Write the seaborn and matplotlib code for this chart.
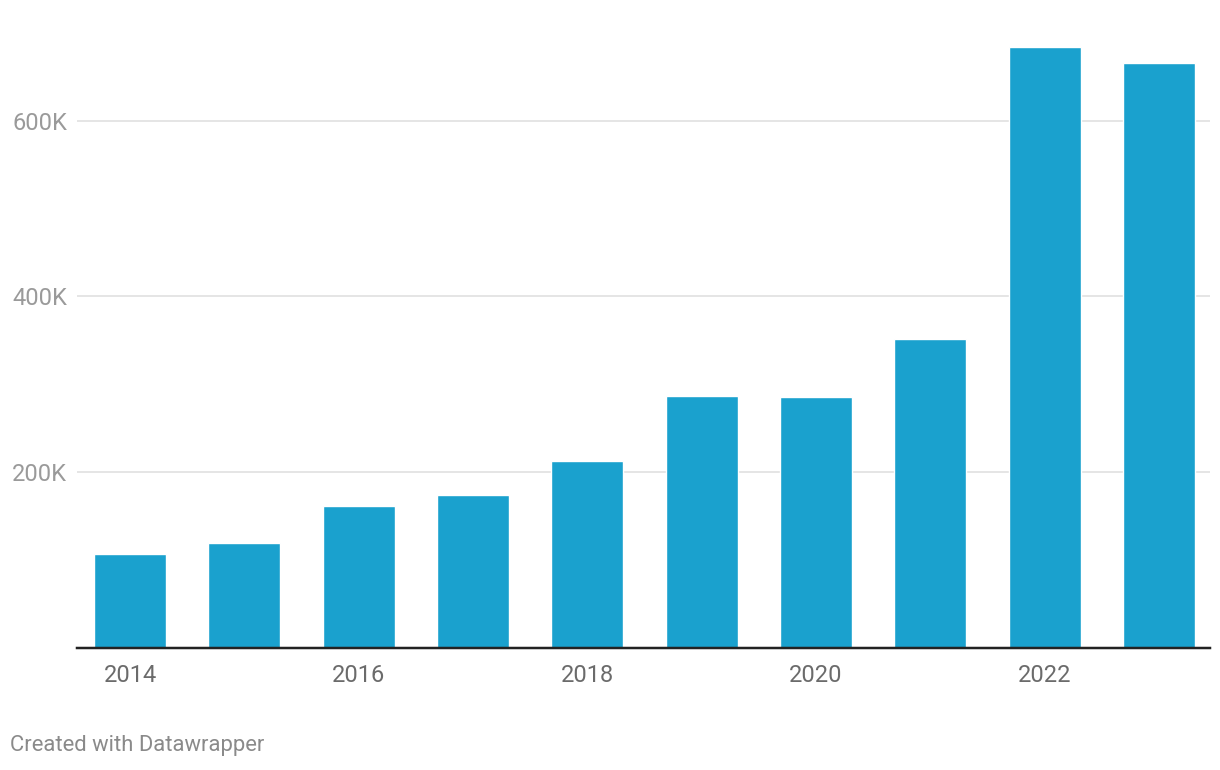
import numpy as np
import pandas as pd
import matplotlib
matplotlib.use("Agg")
import matplotlib.pyplot as plt
import seaborn as sns

sns.set_style("white")
plt.rcParams['font.family'] = ['Roboto', 'DejaVu Sans']

# values (thousands)
years = ["2014", "2015", "2016", "2017", "2018", "2019", "2020", "2021", "2022", "2023"]
values = [106.5, 119.0, 161.2, 173.8, 212.4, 286.3, 285.2, 351.2, 683.8, 665.6]
y_ticks = [200, 400, 600]
y_ticklabels = ["200K", "400K", "600K"]

bar_colour = "#1aa1ce"
px = 72 / 100  # points per pixel at dpi 100

df = pd.DataFrame({"year": years, "value": values})

fig = plt.figure(figsize=(12.2, 7.7), dpi=100)
ax = fig.add_axes([77 / 1220, 122 / 770, (1210 - 77) / 1220, (648 - 40) / 770])

sns.barplot(data=df, x="year", y="value", color=bar_colour, saturation=1,
            width=0.63, ax=ax, zorder=3)

ax.set_xlim(-0.464, 9.446)
ax.set_ylim(0, 691.7)
ax.set_xlabel("")
ax.set_ylabel("")

# grid lines, no zero label
ax.set_yticks(y_ticks)
ax.set_yticklabels(y_ticklabels)
ax.yaxis.grid(True, color="#e5e5e5", linewidth=2 * px, zorder=0)
ax.tick_params(axis="y", length=0, pad=65 * px, labelsize=17, labelcolor="#9a9a9a")
for lab in ax.get_yticklabels():
    lab.set_horizontalalignment("left")

ax.set_xticks(range(len(years)))
ax.set_xticklabels([y if i % 2 == 0 else "" for i, y in enumerate(years)])
ax.tick_params(axis="x", length=0, pad=16 * px, labelsize=17, labelcolor="#6b6b6b")

sns.despine(ax=ax, left=True, right=True, top=True)
ax.spines["bottom"].set_color("#222222")
ax.spines["bottom"].set_linewidth(2.5 * px)
ax.spines["bottom"].set_zorder(5)

fig.text(10 / 1220, 1 - 746 / 770, "Created with Datawrapper", fontsize=15.8,
         color="#8a8a8a", ha="left", va="center")

fig.savefig("out.png", dpi=100)
